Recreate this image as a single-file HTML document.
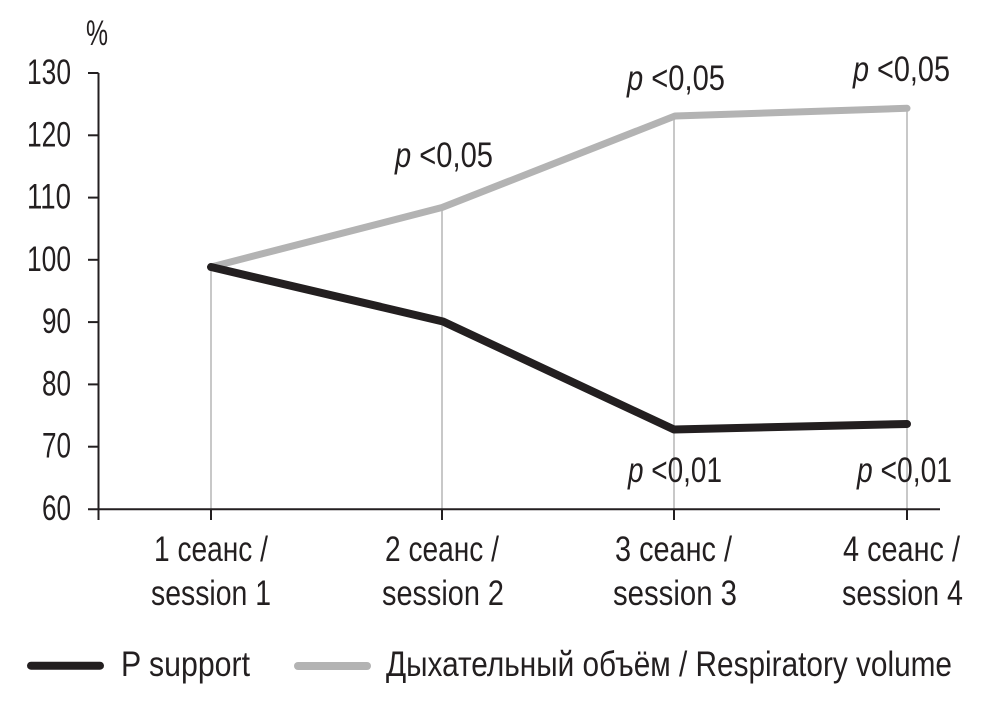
<!DOCTYPE html>
<html><head><meta charset="utf-8"><style>
html,body{margin:0;padding:0;background:#fff;}
svg{display:block;}
text{font-family:"Liberation Sans Narrow","Liberation Sans","Noto Sans CJK SC",sans-serif;fill:#231f20;font-size:35px;}
</style></head><body>
<svg width="989" height="711" viewBox="0 0 989 711" xmlns="http://www.w3.org/2000/svg">
<rect width="989" height="711" fill="#fff"/>
<g stroke="#c8c8c8" stroke-width="2">
<line x1="211" y1="267" x2="211" y2="509"/>
<line x1="442" y1="207" x2="442" y2="509"/>
<line x1="674" y1="116" x2="674" y2="509"/>
<line x1="907" y1="108" x2="907" y2="509"/>
</g>
<g stroke="#231f20" stroke-width="2" fill="none">
<line x1="98.5" y1="73" x2="98.5" y2="520"/>
<line x1="88" y1="509.3" x2="940" y2="509.3"/>
<line x1="88" y1="73" x2="98.5" y2="73"/>
<line x1="88" y1="135.3" x2="98.5" y2="135.3"/>
<line x1="88" y1="197.6" x2="98.5" y2="197.6"/>
<line x1="88" y1="259.8" x2="98.5" y2="259.8"/>
<line x1="88" y1="322.1" x2="98.5" y2="322.1"/>
<line x1="88" y1="384.4" x2="98.5" y2="384.4"/>
<line x1="88" y1="446.7" x2="98.5" y2="446.7"/>
<line x1="211" y1="509" x2="211" y2="520"/>
<line x1="442" y1="509" x2="442" y2="520"/>
<line x1="674" y1="509" x2="674" y2="520"/>
<line x1="907" y1="509" x2="907" y2="520"/>
</g>
<polyline points="211,267 442,207.5 675,116 907,108.3" fill="none" stroke="#b3b3b3" stroke-width="7" stroke-linecap="round" stroke-linejoin="round"/>
<polyline points="211,267 443,321.5 674,429.5 907,424" fill="none" stroke="#231f20" stroke-width="8" stroke-linecap="round" stroke-linejoin="round"/>
<text x="86" y="45" textLength="22" lengthAdjust="spacingAndGlyphs">%</text>
<g text-anchor="end">
<text x="71" y="84" textLength="44" lengthAdjust="spacingAndGlyphs">130</text>
<text x="71" y="146.3" textLength="44" lengthAdjust="spacingAndGlyphs">120</text>
<text x="71" y="208.6" textLength="44" lengthAdjust="spacingAndGlyphs">110</text>
<text x="71" y="270.8" textLength="44" lengthAdjust="spacingAndGlyphs">100</text>
<text x="71" y="333.1" textLength="29" lengthAdjust="spacingAndGlyphs">90</text>
<text x="71" y="395.4" textLength="29" lengthAdjust="spacingAndGlyphs">80</text>
<text x="71" y="457.7" textLength="29" lengthAdjust="spacingAndGlyphs">70</text>
<text x="71" y="520" textLength="29" lengthAdjust="spacingAndGlyphs">60</text>
</g>
<text x="154" y="561" textLength="114" lengthAdjust="spacingAndGlyphs">1 сеанс /</text>
<text x="151" y="605" textLength="120" lengthAdjust="spacingAndGlyphs">session 1</text>
<text x="385" y="561" textLength="114" lengthAdjust="spacingAndGlyphs">2 сеанс /</text>
<text x="382" y="605" textLength="122" lengthAdjust="spacingAndGlyphs">session 2</text>
<text x="615" y="561" textLength="117" lengthAdjust="spacingAndGlyphs">3 сеанс /</text>
<text x="613" y="605" textLength="124" lengthAdjust="spacingAndGlyphs">session 3</text>
<text x="843" y="561" textLength="117" lengthAdjust="spacingAndGlyphs">4 сеанс /</text>
<text x="842" y="605" textLength="121" lengthAdjust="spacingAndGlyphs">session 4</text>
<text x="395" y="167" textLength="98" lengthAdjust="spacingAndGlyphs"><tspan font-style="italic">p</tspan> &lt;0,05</text>
<text x="627" y="90" textLength="98" lengthAdjust="spacingAndGlyphs"><tspan font-style="italic">p</tspan> &lt;0,05</text>
<text x="853" y="81" textLength="97" lengthAdjust="spacingAndGlyphs"><tspan font-style="italic">p</tspan> &lt;0,05</text>
<text x="628" y="482" textLength="94" lengthAdjust="spacingAndGlyphs"><tspan font-style="italic">p</tspan> &lt;0,01</text>
<text x="857" y="482" textLength="95" lengthAdjust="spacingAndGlyphs"><tspan font-style="italic">p</tspan> &lt;0,01</text>
<line x1="31" y1="665.7" x2="100" y2="665.7" stroke="#231f20" stroke-width="8" stroke-linecap="round"/>
<text x="121" y="676" textLength="129" lengthAdjust="spacingAndGlyphs">P support</text>
<line x1="298" y1="666" x2="367" y2="666" stroke="#b3b3b3" stroke-width="8" stroke-linecap="round"/>
<text x="386" y="676" textLength="566" lengthAdjust="spacingAndGlyphs">Дыхательный объём / Respiratory volume</text>
</svg>
</body></html>
